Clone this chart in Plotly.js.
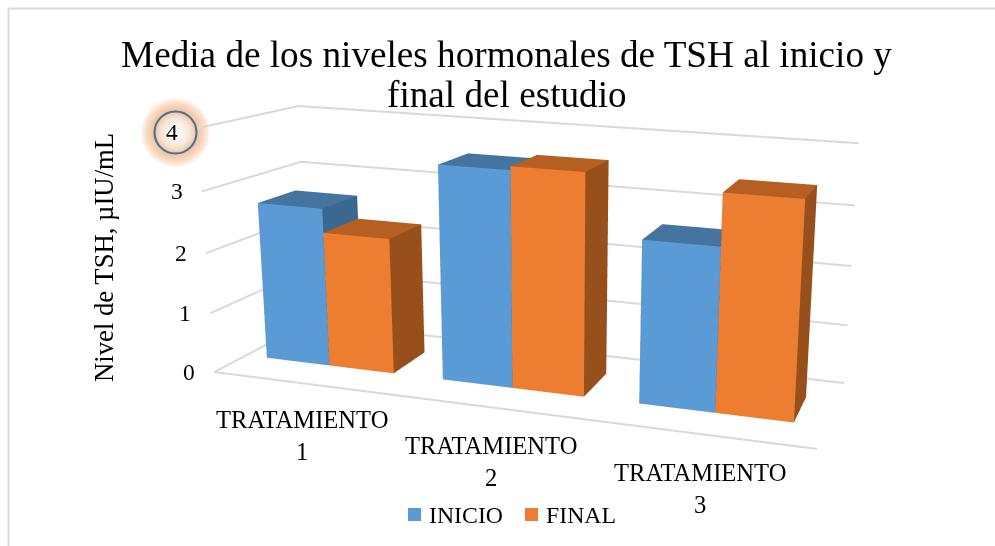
<!DOCTYPE html>
<html>
<head>
<meta charset="utf-8">
<script src="https://cdn.plot.ly/plotly-3.0.1.min.js"></script>
<style>
html,body{margin:0;padding:0;background:#fff;width:995px;height:546px;overflow:hidden;}
#chart{position:absolute;left:0;top:-267px;width:1372px;height:1022px;}
</style>
</head>
<body>
<div id="chart"></div>
<script>
// ---- data ----
var categories = ["TRATAMIENTO<br>1", "TRATAMIENTO<br>2", "TRATAMIENTO<br>3"];
var inicio = [2.67, 3.54, 2.63];
var finalV = [2.27, 3.60, 3.45];
var valueTicks = [0, 1, 2, 3, 4];
var titleLine1 = "Media de los niveles hormonales de TSH al inicio y";
var titleLine2 = "final del estudio";
var yTitle = "Nivel de TSH, µIU/mL";

// ---- page helpers ----
var W = 1372, H = 1022, TOP = -267;
function px(x){ return x / W; }
function py(y){ return 1 - (y - TOP) / H; }
var SERIF = "'Liberation Serif','Times New Roman',serif";

// ---- bars ----
var barLeft = [0.12, 1.10, 2.11];
var barWide = [0.357, 0.367, 0.37];
var depthFront = 0.31, depthBack = 0.70;
function box(x0, x1, y0, y1, h, front, top, side){
  var xs=[x0,x1,x1,x0,x0,x1,x1,x0], ys=[y0,y0,y1,y1,y0,y0,y1,y1], zs=[0,0,0,0,h,h,h,h];
  var faces=[[0,1,5,front],[0,5,4,front],[4,5,6,top],[4,6,7,top],[1,2,6,side],[1,6,5,side],
             [3,0,4,side],[3,4,7,side],[2,3,7,side],[2,7,6,side],[0,1,2,side],[0,2,3,side]];
  return {xs:xs,ys:ys,zs:zs,faces:faces};
}
function barTrace(name, values, off, colors){
  var t={type:"mesh3d",name:name,x:[],y:[],z:[],i:[],j:[],k:[],facecolor:[],flatshading:true,
    color:colors[0],showlegend:false,hoverinfo:"skip",
    lighting:{ambient:1,diffuse:0,specular:0,roughness:1,fresnel:0}};
  values.forEach(function(v,c){
    var left=barLeft[c]+off*barWide[c];
    var b=box(left,left+barWide[c],depthFront,depthBack,v,colors[0],colors[1],colors[2]);
    var n=t.x.length;
    t.x=t.x.concat(b.xs);t.y=t.y.concat(b.ys);t.z=t.z.concat(b.zs);
    b.faces.forEach(function(f){t.i.push(n+f[0]);t.j.push(n+f[1]);t.k.push(n+f[2]);t.facecolor.push(f[3]);});
  });
  return t;
}
var GRID="#D9D9D9";
var traces=[
  barTrace("INICIO",inicio,0,["#5B9BD5","#44749F","#3B6890"]),
  barTrace("FINAL",finalV,1,["#ED7D31","#B65F22","#97501C"]),
  {type:"scatter3d",mode:"lines",x:[0,3],y:[0,0],z:[0,0],line:{color:GRID,width:4},showlegend:false,hoverinfo:"skip"}
];
valueTicks.forEach(function(v){
  traces.push({type:"scatter3d",mode:"lines",x:[0,0,3],y:[0,1,1],z:[v,v,v],line:{color:GRID,width:4},showlegend:false,hoverinfo:"skip"});
});

// ---- glow around the "4" ----
var shapes=[];
function circ(cx,cy,r,fill,line){
  return {type:"circle",xref:"paper",yref:"paper",x0:px(cx-r),x1:px(cx+r),y0:py(cy+r),y1:py(cy-r),
          fillcolor:fill,line:line||{width:0},layer:"below"};
}
var r;
for(r=35;r>=21;r--) shapes.push(circ(175.5,132.5,r,"rgba(244,165,110,0.065)"));
for(r=20;r>=5;r-=1) shapes.push(circ(175.5,132.5,r,"rgba(255,255,255,0.14)"));
shapes.push(circ(175.5,132.5,21,"rgba(0,0,0,0)",{color:"#41719C",width:2}));
// chart area border
shapes.push({type:"line",xref:"paper",yref:"paper",x0:px(8.5),x1:px(8.5),y0:py(8.5),y1:py(546),line:{color:"#D9D9D9",width:2},layer:"below"});
shapes.push({type:"line",xref:"paper",yref:"paper",x0:px(8.5),x1:px(995),y0:py(8.5),y1:py(8.5),line:{color:"#D9D9D9",width:2},layer:"below"});

// ---- text ----
var catPos=[[302,435],[491,461],[700,488]];
var annotations=catPos.map(function(p,i){
  return {xref:"paper",yref:"paper",x:px(p[0]),y:py(p[1]),text:categories[i],showarrow:false,
          xanchor:"center",yanchor:"middle",font:{family:SERIF,size:24.6,color:"#000"}};
});
annotations.push({xref:"paper",yref:"paper",x:px(506.5),y:py(95),text:titleLine2,showarrow:false,
  xanchor:"center",yanchor:"middle",font:{family:SERIF,size:37.2,color:"#000"}});
annotations.push({xref:"paper",yref:"paper",x:px(104),y:py(258),text:yTitle,textangle:-90,showarrow:false,
  xanchor:"center",yanchor:"middle",font:{family:SERIF,size:26.7,color:"#000"}});
annotations.push({xref:"paper",yref:"paper",x:px(427),y:py(515),text:"INICIO",showarrow:false,xanchor:"left",yanchor:"middle",font:{family:SERIF,size:23.8,color:"#000"}});
annotations.push({xref:"paper",yref:"paper",x:px(544),y:py(515),text:"FINAL",showarrow:false,xanchor:"left",yanchor:"middle",font:{family:SERIF,size:23.8,color:"#000"}});
shapes.push({type:"rect",xref:"paper",yref:"paper",x0:px(408),x1:px(421),y0:py(521),y1:py(508),fillcolor:"#5B9BD5",line:{width:0},layer:"below"});
shapes.push({type:"rect",xref:"paper",yref:"paper",x0:px(525),x1:px(538),y0:py(521),y1:py(508),fillcolor:"#ED7D31",line:{width:0},layer:"below"});

var sceneAnn=valueTicks.map(function(v){
  return {x:0,y:0,z:v,text:String(v),showarrow:false,xanchor:"center",yanchor:"middle",xshift:-25,
          yshift:(v===4?-4:0),font:{family:SERIF,size:23.5,color:"#000"}};
});

var hidden={showbackground:false,showticklabels:false,showgrid:false,zeroline:false,showline:false,ticks:"",title:{text:""},showspikes:false};
var layout={
  width:W,height:H,autosize:false,margin:{l:0,r:0,t:0,b:0,pad:0},paper_bgcolor:"#fff",showlegend:false,
  title:{text:titleLine1,x:px(506.5),xanchor:"center",xref:"paper",y:py(54),yref:"paper",yanchor:"middle",
         font:{family:SERIF,size:37.2,color:"#000"}},
  shapes:shapes,annotations:annotations,
  scene:{
    domain:{x:[0,1],y:[0,1]},
    aspectmode:"manual",aspectratio:{x:0.9854,y:0.2832,z:0.398},
    bgcolor:"rgba(0,0,0,0)",
    camera:{projection:{type:"perspective"},
      eye:{x:0.714,y:-1.778,z:0.504},
      center:{x:0.2368,y:0.0687,z:0.0307},
      up:{x:-0.0864,y:0.2269,z:0.9703}},
    xaxis:Object.assign({},hidden,{range:[0,3]}),
    yaxis:Object.assign({},hidden,{range:[0,1]}),
    zaxis:Object.assign({},hidden,{range:[0,4],tickvals:valueTicks}),
    annotations:sceneAnn
  }
};
Plotly.newPlot("chart",traces,layout,{displayModeBar:false,responsive:false});
</script>
</body>
</html>
